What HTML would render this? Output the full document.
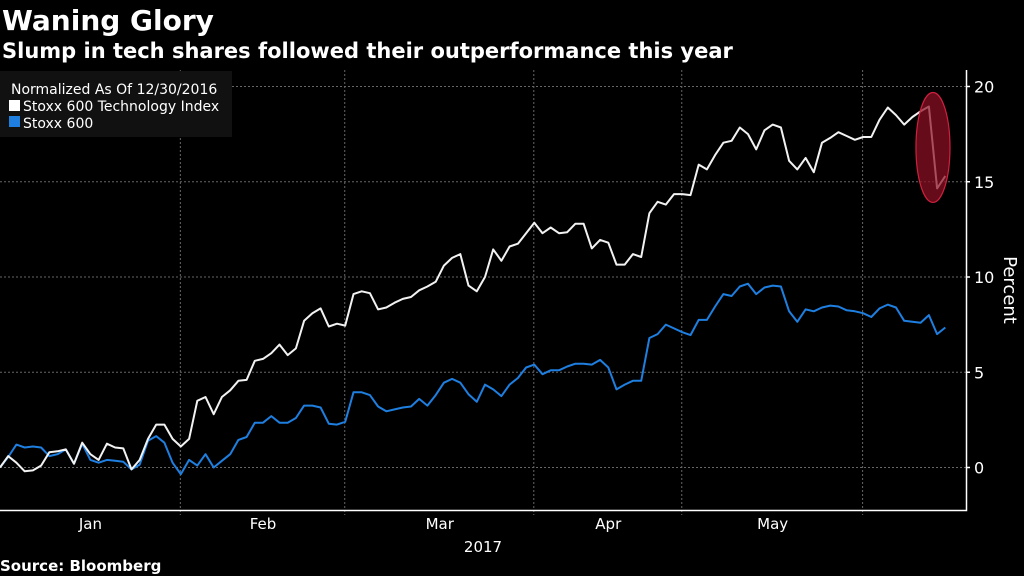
<!DOCTYPE html>
<html><head><meta charset="utf-8"><style>
html,body{margin:0;padding:0;background:#000;width:1024px;height:576px;overflow:hidden}
svg{display:block}
text{font-family:"DejaVu Sans","Liberation Sans",sans-serif;fill:#fff}
</style></head><body>
<svg id="chart" width="1024" height="576" viewBox="0 0 1024 576">
<text x="2" y="30" font-size="28" font-weight="bold">Waning Glory</text>
<text x="2" y="58" font-size="21" font-weight="bold">Slump in tech shares followed their outperformance this year</text>
<g id="grid"></g>
<g id="axes"></g>
<g id="series"></g>
<g>
<rect x="0" y="71" width="232" height="66" fill="#111"/>
<text x="11" y="94" font-size="14" fill="#ddd">Normalized As Of 12/30/2016</text>
<rect x="9" y="100" width="11" height="11" fill="#fff"/>
<text x="23" y="111" font-size="14">Stoxx 600 Technology Index</text>
<rect x="9" y="116" width="11" height="11" fill="#1e7fe0"/>
<text x="23" y="128" font-size="14">Stoxx 600</text>
</g>
<text x="0" y="571" font-size="15" font-weight="bold">Source: Bloomberg</text>
</svg>
<script>
const techValues=[0,0.6,0.25,-0.2,-0.15,0.1,0.8,0.85,0.95,0.2,1.3,0.7,0.4,1.25,1.05,1.0,-0.1,0.4,1.5,2.25,2.25,1.5,1.1,1.5,3.5,3.7,2.8,3.7,4.05,4.55,4.6,5.6,5.7,6.0,6.45,5.9,6.25,7.7,8.1,8.35,7.4,7.55,
7.45,9.1,9.25,9.15,8.3,8.4,8.65,8.85,8.95,9.3,9.5,9.75,10.6,11.0,11.2,9.55,9.25,10.0,11.45,10.85,11.6,11.75,12.3,12.85,12.3,12.6,12.3,12.35,12.8,12.8,11.5,11.95,11.8,10.65,10.65,11.2,11.05,13.35,13.95,13.8,
14.35,14.35,14.3,15.9,15.65,16.4,17.05,17.15,17.85,17.5,16.7,17.7,18.0,17.85,16.1,15.65,16.25,15.5,17.05,17.3,17.6,17.4,17.2,17.35,17.35,18.25,18.9,18.5,18.0,18.4,18.7,18.95,14.65,15.3];
const stoxxValues=[0,0.55,1.2,1.05,1.1,1.05,0.6,0.7,0.95,0.2,1.25,0.4,0.25,0.4,0.35,0.3,-0.1,0.15,1.4,1.65,1.3,0.25,-0.35,0.4,0.1,0.7,0,0.35,0.7,1.45,1.6,2.35,2.35,2.7,2.35,2.35,2.6,3.25,3.25,3.15,2.3,2.25,
2.4,3.95,3.95,3.8,3.2,2.95,3.05,3.15,3.2,3.6,3.25,3.8,4.45,4.65,4.45,3.85,3.45,4.35,4.1,3.75,4.35,4.7,5.25,5.4,4.9,5.1,5.1,5.3,5.45,5.45,5.4,5.65,5.25,4.1,4.35,4.55,4.55,6.8,7.0,7.5,
7.3,7.1,6.95,7.75,7.75,8.45,9.1,9.0,9.5,9.65,9.1,9.45,9.55,9.5,8.2,7.65,8.3,8.2,8.4,8.5,8.45,8.25,8.2,8.1,7.9,8.35,8.55,8.4,7.7,7.65,7.6,8.0,7.0,7.35];
const yTicks=[0,5,10,15,20];
const monthLabels=["Jan","Feb","Mar","Apr","May"];
const monthStartIdx=[0,22,42,65,83,105];
const NS="http://www.w3.org/2000/svg";
const X0=0,DX=8.22,Y0=467.5,PPU=19.05;
function xs(i){return X0+i*DX;}
function ys(v){return Y0-v*PPU;}
function mk(tag,attrs,parent){const e=document.createElementNS(NS,tag);for(const k in attrs)e.setAttribute(k,attrs[k]);parent.appendChild(e);return e;}
const grid=document.getElementById('grid'),axes=document.getElementById('axes'),series=document.getElementById('series');
yTicks.forEach(t=>{
  const l=mk('line',{x1:0,x2:966,y1:ys(t),y2:ys(t),stroke:'#666','stroke-dasharray':'2,2','stroke-width':1},grid);
  
  
  const tk=mk('line',{x1:966,x2:970,y1:ys(t),y2:ys(t),stroke:'#fff','stroke-width':1.5},axes);
  
  
  const tx=mk('text',{x:974,y:ys(t)+6,'font-size':16},axes);
  tx.textContent=t;
  
  
});
monthStartIdx.slice(1).forEach((idx,k)=>{
  const x=xs(idx)-0.5;
  const g=mk('line',{x1:x,x2:x,y1:70,y2:515,stroke:'#666','stroke-dasharray':'2,2','stroke-width':1},grid);
  
  
});
monthLabels.forEach((m,k)=>{
  const a=k===0?0:xs(monthStartIdx[k]),b=xs(monthStartIdx[k+1]);
  const t=mk('text',{x:(a+b)/2,y:529,'font-size':15,'text-anchor':'middle',fill:'#ddd'},axes);
  t.textContent=m;
  
  
});
const yr=mk('text',{x:483,y:552,'font-size':15,'text-anchor':'middle',fill:'#ddd'},axes);
yr.textContent='2017';


const ax=mk('path',{d:'M0 510.5 H966.5 V70',stroke:'#fff','stroke-width':1.5,fill:'none'},axes);


const pt=mk('text',{x:0,y:0,'font-size':18,'text-anchor':'middle',transform:'translate(1004,290) rotate(90)'},axes);
pt.textContent='Percent';


function line(vals,color,name){
  const d=vals.map((v,i)=>(i?'L':'M')+xs(i).toFixed(1)+' '+ys(v).toFixed(1)).join(' ');
  const p=mk('path',{d:d,stroke:color,'stroke-width':2,fill:'none','stroke-linejoin':'round'},series);
  
  
}
line(stoxxValues,'#1e7fe0','line-stoxx-600');
line(techValues,'#f2f2f2','line-stoxx-600-technology');
const n=techValues.length;
const cx=(xs(n-2)+xs(n-3))/2,lo=Math.min(techValues[n-1],techValues[n-2]),hi=techValues[n-3];
const el=mk('ellipse',{cx:cx,cy:(ys(lo)+ys(hi))/2,rx:17,ry:(ys(lo)-ys(hi))/2+14,fill:'rgba(140,15,35,0.72)',stroke:'#d02040','stroke-width':1.2},series);


</script>
</body></html>
